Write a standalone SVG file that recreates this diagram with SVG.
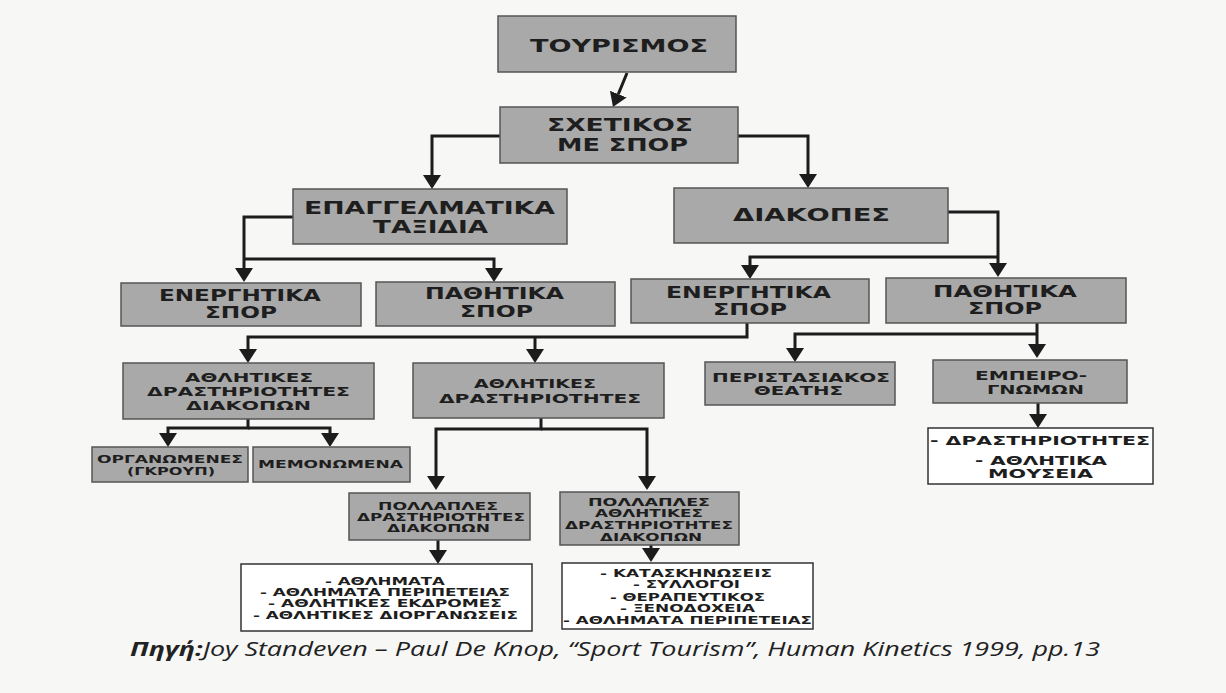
<svg xmlns="http://www.w3.org/2000/svg" width="1226" height="693" viewBox="0 0 1226 693">
<style>
.bg{fill:#f7f7f6}
.box{fill:#a9a9a9;stroke:#555;stroke-width:1.5}
.wbox{fill:#ffffff;stroke:#333;stroke-width:1.5}
.t{font-family:"DejaVu Sans","Liberation Sans",sans-serif;font-weight:bold;fill:#1e1e1e}
.f17{font-size:17px}
.f15{font-size:15px}
.f13{font-size:13px}
.f12{font-size:12px}
.f11{font-size:11px}
.f10{font-size:10px}
.conn path{fill:none;stroke:#1c1c1c;stroke-width:3;stroke-linejoin:miter}
.arr{marker-end:url(#ah)}
.cap{font-family:"Open Sans","Noto Sans","DejaVu Sans",sans-serif;font-style:italic;font-size:20px;fill:#222}
</style>
<defs>
<marker id="ah" markerUnits="userSpaceOnUse" markerWidth="16" markerHeight="20" viewBox="0 -10 16 20" refX="0" refY="0" orient="auto">
<path d="M0,-9 L14,0 L0,9 Z" fill="#1c1c1c"/>
</marker>
</defs>
<rect class="bg" x="0" y="0" width="1226" height="693"/>

<g id="connectors" class="conn">
<path class="arr" d="M627,73 L618.3,94.1"/>
<path class="arr" d="M500,136 H432 V175"/>
<path class="arr" d="M738,136 H808 V174"/>
<path class="arr" d="M293,217 H244 V268"/>
<path class="arr" d="M244,259 H494 V268"/>
<path class="arr" d="M948,212 H998 V263"/>
<path class="arr" d="M998,257 H750 V265"/>
<path class="arr" d="M747,323 V337 H248 V349"/>
<path class="arr" d="M535,337 V349"/>
<path class="arr" d="M1037,322 V344"/>
<path class="arr" d="M1037,334 H795 V348"/>
<path class="arr" d="M1038,403 V414"/>
<path class="arr" d="M248,419 V428 H168 V433"/>
<path class="arr" d="M248,428 H330 V433"/>
<path class="arr" d="M541,418 V429 H436 V476"/>
<path class="arr" d="M541,429 H647 V476"/>
<path class="arr" d="M438,540 V550"/>
<path class="arr" d="M651,545 V548"/>
</g>

<g id="n-tourismos">
<rect class="box" x="498" y="16" width="238" height="56"/>
<text class="t f17" x="530" y="52" textLength="178" lengthAdjust="spacingAndGlyphs">ΤΟΥΡΙΣΜΟΣ</text>
</g>
<g id="n-sxetikos">
<rect class="box" x="500" y="107" width="238" height="56"/>
<text class="t f17" x="547" y="131" textLength="146" lengthAdjust="spacingAndGlyphs">ΣΧΕΤΙΚΟΣ</text>
<text class="t f17" x="557" y="151" textLength="131" lengthAdjust="spacingAndGlyphs">ΜΕ ΣΠΟΡ</text>
</g>
<g id="n-epaggelmatika">
<rect class="box" x="293" y="189" width="274" height="55"/>
<text class="t f17" x="304" y="214" textLength="251" lengthAdjust="spacingAndGlyphs">ΕΠΑΓΓΕΛΜΑΤΙΚΑ</text>
<text class="t f17" x="373" y="233" textLength="115" lengthAdjust="spacingAndGlyphs">ΤΑΞΙΔΙΑ</text>
</g>
<g id="n-diakopes">
<rect class="box" x="674" y="188" width="274" height="55"/>
<text class="t f17" x="733" y="221" textLength="157" lengthAdjust="spacingAndGlyphs">ΔΙΑΚΟΠΕΣ</text>
</g>
<g id="n-energ-left">
<rect class="box" x="121" y="283" width="240" height="43"/>
<text class="t f15" x="159" y="301" textLength="162" lengthAdjust="spacingAndGlyphs">ΕΝΕΡΓΗΤΙΚΑ</text>
<text class="t f15" x="205" y="318" textLength="72" lengthAdjust="spacingAndGlyphs">ΣΠΟΡ</text>
</g>
<g id="n-path-left">
<rect class="box" x="376" y="282" width="239" height="44"/>
<text class="t f15" x="425" y="299" textLength="139" lengthAdjust="spacingAndGlyphs">ΠΑΘΗΤΙΚΑ</text>
<text class="t f15" x="460" y="317" textLength="73" lengthAdjust="spacingAndGlyphs">ΣΠΟΡ</text>
</g>
<g id="n-energ-right">
<rect class="box" x="631" y="279" width="238" height="44"/>
<text class="t f15" x="666" y="298" textLength="165" lengthAdjust="spacingAndGlyphs">ΕΝΕΡΓΗΤΙΚΑ</text>
<text class="t f15" x="713" y="315" textLength="74" lengthAdjust="spacingAndGlyphs">ΣΠΟΡ</text>
</g>
<g id="n-path-right">
<rect class="box" x="886" y="278" width="240" height="45"/>
<text class="t f15" x="933" y="297" textLength="144" lengthAdjust="spacingAndGlyphs">ΠΑΘΗΤΙΚΑ</text>
<text class="t f15" x="968" y="314" textLength="74" lengthAdjust="spacingAndGlyphs">ΣΠΟΡ</text>
</g>
<g id="n-athl-diak">
<rect class="box" x="123" y="363" width="251" height="56"/>
<text class="t f12" x="185" y="382" textLength="128" lengthAdjust="spacingAndGlyphs">ΑΘΛΗΤΙΚΕΣ</text>
<text class="t f12" x="147" y="396" textLength="203" lengthAdjust="spacingAndGlyphs">ΔΡΑΣΤΗΡΙΟΤΗΤΕΣ</text>
<text class="t f12" x="186" y="410" textLength="125" lengthAdjust="spacingAndGlyphs">ΔΙΑΚΟΠΩΝ</text>
</g>
<g id="n-athl-drast">
<rect class="box" x="413" y="363" width="251" height="55"/>
<text class="t f12" x="474" y="388" textLength="122" lengthAdjust="spacingAndGlyphs">ΑΘΛΗΤΙΚΕΣ</text>
<text class="t f12" x="439" y="403" textLength="202" lengthAdjust="spacingAndGlyphs">ΔΡΑΣΤΗΡΙΟΤΗΤΕΣ</text>
</g>
<g id="n-peristasiakos">
<rect class="box" x="705" y="362" width="190" height="43"/>
<text class="t f13" x="712" y="382" textLength="178" lengthAdjust="spacingAndGlyphs">ΠΕΡΙΣΤΑΣΙΑΚΟΣ</text>
<text class="t f13" x="754" y="395" textLength="89" lengthAdjust="spacingAndGlyphs">ΘΕΑΤΗΣ</text>
</g>
<g id="n-empeirognomon">
<rect class="box" x="933" y="360" width="194" height="43"/>
<text class="t f13" x="975" y="380" textLength="112" lengthAdjust="spacingAndGlyphs">ΕΜΠΕΙΡΟ-</text>
<text class="t f13" x="987" y="394" textLength="97" lengthAdjust="spacingAndGlyphs">ΓΝΩΜΩΝ</text>
</g>
<g id="n-drastir-mouseia">
<rect class="wbox" x="928" y="428" width="225" height="56"/>
<text class="t f13" x="930" y="445" textLength="220" lengthAdjust="spacingAndGlyphs">- ΔΡΑΣΤΗΡΙΟΤΗΤΕΣ</text>
<text class="t f13" x="975" y="465" textLength="132" lengthAdjust="spacingAndGlyphs">- ΑΘΛΗΤΙΚΑ</text>
<text class="t f13" x="988" y="478" textLength="105" lengthAdjust="spacingAndGlyphs">ΜΟΥΣΕΙΑ</text>
</g>
<g id="n-organomenes">
<rect class="box" x="92" y="447" width="156" height="35"/>
<text class="t f10" x="97" y="463" textLength="146" lengthAdjust="spacingAndGlyphs">ΟΡΓΑΝΩΜΕΝΕΣ</text>
<text class="t f10" x="127" y="475" textLength="88" lengthAdjust="spacingAndGlyphs">(ΓΚΡΟΥΠ)</text>
</g>
<g id="n-memonomena">
<rect class="box" x="253" y="447" width="157" height="35"/>
<text class="t f10" x="258" y="468" textLength="145" lengthAdjust="spacingAndGlyphs">ΜΕΜΟΝΩΜΕΝΑ</text>
</g>
<g id="n-pollaples-left">
<rect class="box" x="349" y="493" width="181" height="47"/>
<text class="t f10" x="378" y="510" textLength="120" lengthAdjust="spacingAndGlyphs">ΠΟΛΛΑΠΛΕΣ</text>
<text class="t f10" x="357" y="521" textLength="168" lengthAdjust="spacingAndGlyphs">ΔΡΑΣΤΗΡΙΟΤΗΤΕΣ</text>
<text class="t f10" x="387" y="532" textLength="103" lengthAdjust="spacingAndGlyphs">ΔΙΑΚΟΠΩΝ</text>
</g>
<g id="n-pollaples-right">
<rect class="box" x="560" y="492" width="179" height="53"/>
<text class="t f10" x="588" y="506" textLength="122" lengthAdjust="spacingAndGlyphs">ΠΟΛΛΑΠΛΕΣ</text>
<text class="t f10" x="595" y="517" textLength="108" lengthAdjust="spacingAndGlyphs">ΑΘΛΗΤΙΚΕΣ</text>
<text class="t f10" x="565" y="529" textLength="168" lengthAdjust="spacingAndGlyphs">ΔΡΑΣΤΗΡΙΟΤΗΤΕΣ</text>
<text class="t f10" x="600" y="541" textLength="102" lengthAdjust="spacingAndGlyphs">ΔΙΑΚΟΠΩΝ</text>
</g>
<g id="n-list-left">
<rect class="wbox" x="241" y="564" width="291" height="67"/>
<text class="t f11" x="325" y="585" textLength="120" lengthAdjust="spacingAndGlyphs">- ΑΘΛΗΜΑΤΑ</text>
<text class="t f11" x="260" y="596" textLength="250" lengthAdjust="spacingAndGlyphs">- ΑΘΛΗΜΑΤΑ ΠΕΡΙΠΕΤΕΙΑΣ</text>
<text class="t f11" x="268" y="607" textLength="234" lengthAdjust="spacingAndGlyphs">- ΑΘΛΗΤΙΚΕΣ ΕΚΔΡΟΜΕΣ</text>
<text class="t f11" x="253" y="619" textLength="265" lengthAdjust="spacingAndGlyphs">- ΑΘΛΗΤΙΚΕΣ ΔΙΟΡΓΑΝΩΣΕΙΣ</text>
</g>
<g id="n-list-right">
<rect class="wbox" x="562" y="563" width="251" height="66"/>
<text class="t f11" x="600" y="577" textLength="172" lengthAdjust="spacingAndGlyphs">- ΚΑΤΑΣΚΗΝΩΣΕΙΣ</text>
<text class="t f11" x="633" y="588" textLength="107" lengthAdjust="spacingAndGlyphs">- ΣΥΛΛΟΓΟΙ</text>
<text class="t f11" x="610" y="601" textLength="155" lengthAdjust="spacingAndGlyphs">- ΘΕΡΑΠΕΥΤΙΚΟΣ</text>
<text class="t f11" x="620" y="612" textLength="135" lengthAdjust="spacingAndGlyphs">- ΞΕΝΟΔΟΧΕΙΑ</text>
<text class="t f11" x="563" y="624" textLength="249" lengthAdjust="spacingAndGlyphs">- ΑΘΛΗΜΑΤΑ ΠΕΡΙΠΕΤΕΙΑΣ</text>
</g>

<g id="caption">
<text class="cap" x="130" y="656" textLength="970" lengthAdjust="spacingAndGlyphs"><tspan font-weight="bold">Πηγή:</tspan>Joy Standeven – Paul De Knop, “Sport Tourism”, Human Kinetics 1999, pp.13</text>
</g>
</svg>
